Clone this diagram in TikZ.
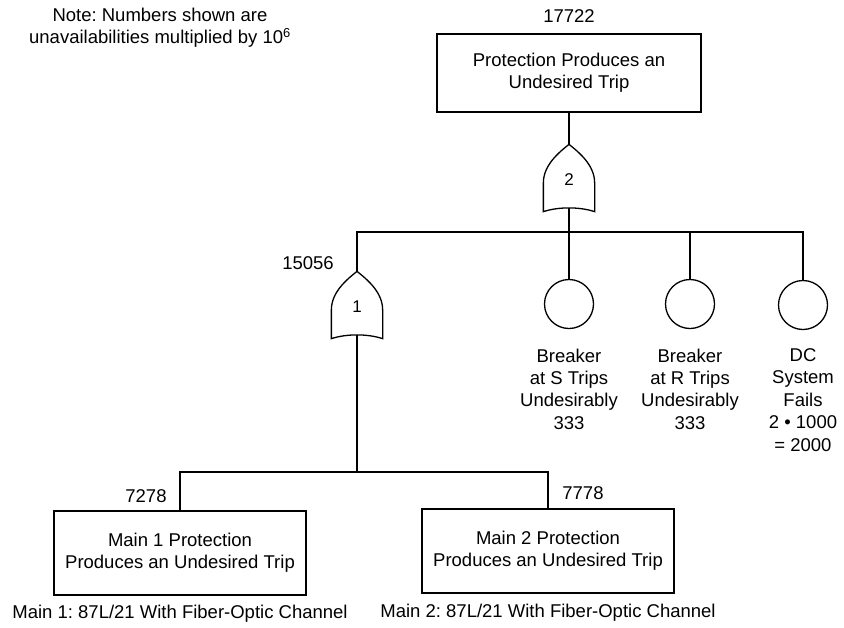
\documentclass[tikz,border=0pt]{standalone}
\usepackage{fontspec}
\setmainfont{Liberation Sans}
\usepackage{tikz}
\usetikzlibrary{calc}
\frenchspacing

% outline of an OR gate drawn round a gate node
\newcommand{\orgate}[1]{%
  \draw (#1.north) .. controls +(10,8) and +(0,-18) .. ($(#1.east)+(0,7)$)
    -- ($(#1.south east)+(0,4)$) .. controls +(-15,-5) and +(15,-5) .. ($(#1.south west)+(0,4)$)
    -- ($(#1.west)+(0,7)$) .. controls +(0,-18) and +(-10,8) .. (#1.north);}

\begin{document}
\begin{tikzpicture}[x=1pt,y=-1pt,line width=1.3pt,
  every node/.style={font=\fontsize{18.5pt}{22.4pt}\selectfont},
  topev/.style={draw,rectangle,minimum width=264pt,minimum height=78pt,align=center},
  subev/.style={draw,rectangle,minimum width=252pt,minimum height=84pt,align=center},
  basic/.style={draw,circle,minimum size=49pt},
  gate/.style={minimum width=50pt,minimum height=62pt,inner sep=0pt},
  gatenum/.style={yshift=-4pt,font=\fontsize{17pt}{20pt}\selectfont},
  txt/.style={align=center,inner sep=0pt}
]
\useasboundingbox (0,0) rectangle (844,627);

\node[txt] (note) at (160,28) {Note: Numbers shown are\\unavailabilities multiplied by 10\textsuperscript{6}};

\node[txt]    (v0)  at (569,16)  {17722};
\node[topev]  (top) at (569,73)  {Protection Produces an\\Undesired Trip};
\node[gate,label={[gatenum]center:2}] (g2) at (569,176) {};
\coordinate   (bus1) at (569,232);

\node[basic]  (c1)  at (569,304) {};
\node[basic]  (c2)  at (690,304) {};
\node[basic]  (c3)  at (803,305) {};
\node[txt,anchor=north] (t1) at (569,348) {Breaker\\at S Trips\\Undesirably\\333};
\node[txt,anchor=north] (t2) at (690,348) {Breaker\\at R Trips\\Undesirably\\333};
\node[txt,anchor=north] (t3) at (803,348) {DC\\System\\Fails\\2 • 1000\\= 2000};

\node[txt]    (v1)  at (308,263) {15056};
\node[gate,label={[gatenum]center:1}] (g1) at (357,303) {};
\coordinate   (bus2) at (357,472);

\node[txt]    (v2)  at (146,496) {7278};
\node[txt]    (v3)  at (583,493) {7778};
\node[subev]  (m1)  at (180,553) {Main 1 Protection\\Produces an Undesired Trip};
\node[subev]  (m2)  at (548,551) {Main 2 Protection\\Produces an Undesired Trip};
\node[txt]    (n1)  at (180,614) {Main 1: 87L/21 With Fiber-Optic Channel};
\node[txt]    (n2)  at (548,613) {Main 2: 87L/21 With Fiber-Optic Channel};

\orgate{g2}
\orgate{g1}

\draw (top) -- (g2.north);
\draw (g2.south) -- (c1.north);
\draw (g1.north) |- (bus1) -| (c3.north);
\draw (c2.north) -- (c2.north |- bus1);
\draw (g1.south) -- (bus2);
\draw (m1.north) |- (bus2) -| (m2.north);
\end{tikzpicture}
\end{document}
